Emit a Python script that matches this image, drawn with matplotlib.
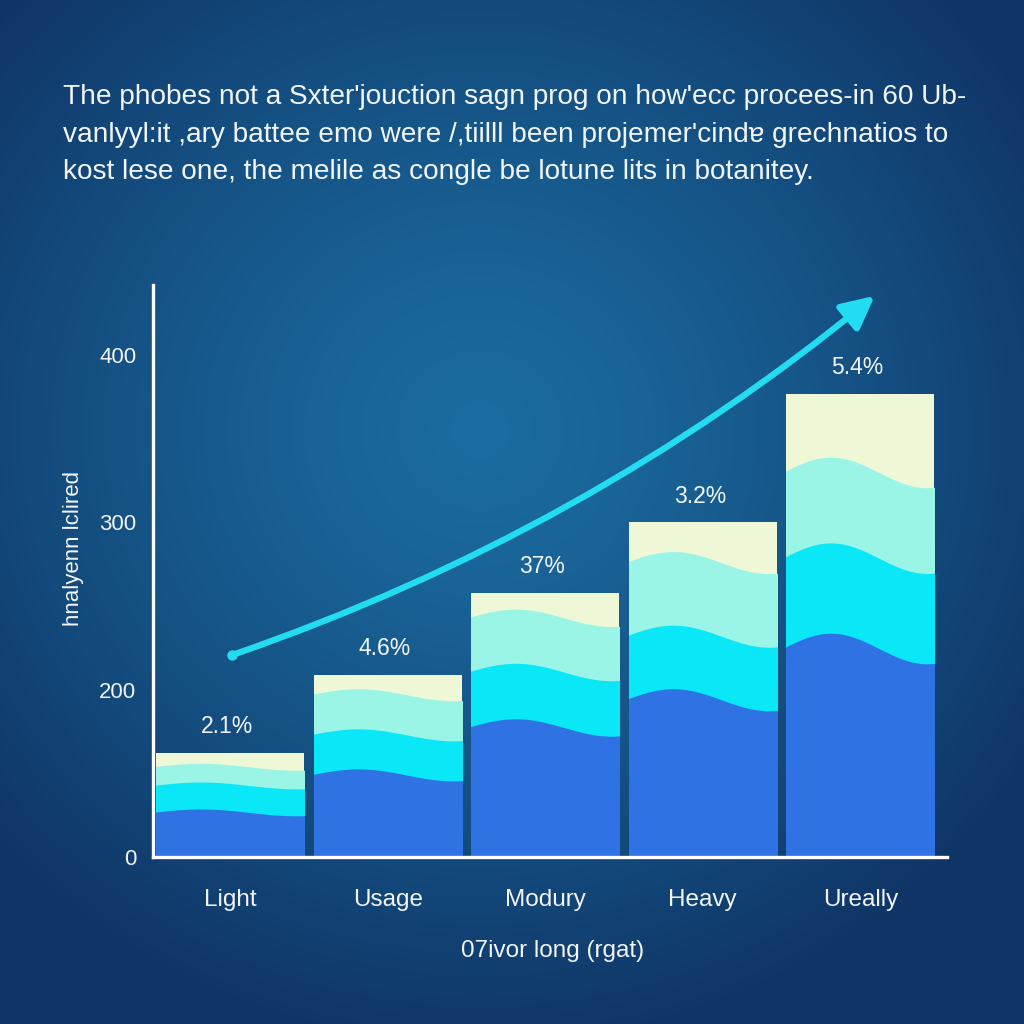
import numpy as np
import matplotlib
matplotlib.use("Agg")
import matplotlib.pyplot as plt

plt.rcParams['font.family'] = ['Liberation Sans', 'DejaVu Sans']

# data
categories = ['Light', 'Usage', 'Modury', 'Heavy', 'Ureally']
values = [124, 209, 258, 300, 377]
pct_labels = ['2.1%', '4.6%', '37%', '3.2%', '5.4%']
# layer tops as share of each bar (blue, cyan, aqua); cream fills the rest
blue_share = [0.43, 0.45, 0.49, 0.47, 0.45]
cyan_share = [0.69, 0.67, 0.70, 0.66, 0.645]
aqua_share = [0.87, 0.89, 0.905, 0.88, 0.83]
yticks = [0, 200, 300, 400]

title = ("The phobes not a Sxter'jouction sagn prog on how'ecc procees-in 60 Ub-\n"
         "vanlyyl:it ,ary battee emo were /,tiilll been projemer'cindɐ grechnatios to\n"
         "kost lese one, the melile as congle be lotune lits in botanitey.")
ylabel = 'hnalyenn lclired'
xlabel = '07ivor long (rgat)'

c_blue = '#2F72E4'
c_cyan = '#0AE8F7'
c_aqua = '#9AF5E6'
c_cream = '#EFF8D6'
c_text = '#F2F5F8'
c_arrow = '#22DDF2'


# the axis in the picture squeezes 0-200 into the same room as 200-300
def fwd(y):
    y = np.asarray(y, dtype=float)
    return np.where(y < 200, y / 2.0, y - 100.0)


def inv(t):
    t = np.asarray(t, dtype=float)
    return np.where(t < 100, t * 2.0, t + 100.0)


fig = plt.figure(figsize=(10.24, 10.24), dpi=100)

# radial background
bg = fig.add_axes([0, 0, 1, 1], zorder=-10)
yy, xx = np.mgrid[0:1024, 0:1024]
d = np.sqrt((xx - 480) ** 2 + ((yy - 430) * 1.05) ** 2) / 660.0
d = np.clip(d, 0, 1) ** 1.3
c0 = np.array([27, 108, 160]) / 255.0
c1 = np.array([15, 52, 101]) / 255.0
img = c0[None, None, :] * (1 - d[..., None]) + c1[None, None, :] * d[..., None]
bg.imshow(img, extent=[0, 1, 0, 1], aspect='auto')
bg.axis('off')

ax = fig.add_axes([0.1494, 0.1631, 0.7754, 0.5586])
ax.set_facecolor('none')
ax.set_yscale('function', functions=(fwd, inv))
ax.set_xlim(-0.49, 4.55)
ax.set_ylim(0, 442)

x = np.arange(len(categories))
width = 0.94
bars = ax.bar(x, values, width=width, color=c_cream, lw=0, zorder=2)

u = np.linspace(-0.05, 1.05, 140)
wave = np.cos(2 * np.pi * (u - 0.3) / 1.3)
for i, v in enumerate(values):
    h = float(fwd(v))
    amp = 0.033 * h
    xs = x[i] - width / 2 + u * width
    for share, col in [(aqua_share[i], c_aqua), (cyan_share[i], c_cyan),
                       (blue_share[i], c_blue)]:
        top = inv(h * share + amp * wave)
        band = ax.fill_between(xs, -5, top, color=col, lw=0, zorder=3)
        band.set_clip_path(bars[i])
    ax.annotate(pct_labels[i], xy=(x[i], v), xytext=(-2, 19),
                textcoords='offset points', ha='center', va='center',
                fontsize=16.5, color=c_text, zorder=5)

for s in ['top', 'right']:
    ax.spines[s].set_visible(False)
for s in ['left', 'bottom']:
    ax.spines[s].set_color('white')
    ax.spines[s].set_linewidth(2.4)
    ax.spines[s].set_zorder(6)

ax.set_xticks(x)
ax.set_xticklabels(categories, fontsize=17.5, color=c_text)
ax.set_yticks(yticks)
ax.set_yticklabels([str(t) for t in yticks], fontsize=16, color=c_text)
ax.tick_params(axis='both', length=0)
ax.tick_params(axis='x', pad=23)
ax.tick_params(axis='y', pad=12)
ax.minorticks_off()

# rising trend arrow
ax.annotate('', xy=(0.909, 0.981), xytext=(0.0995, 0.353),
            xycoords='axes fraction', textcoords='axes fraction',
            arrowprops=dict(arrowstyle='-|>,head_length=0.9,head_width=0.45',
                            connectionstyle='arc3,rad=0.09', color=c_arrow,
                            lw=4.5, capstyle='round', mutation_scale=22,
                            shrinkA=0, shrinkB=0),
            zorder=4)
ax.plot([0.0995], [0.353], 'o', transform=ax.transAxes, color=c_arrow,
        ms=6.5, zorder=4, clip_on=False)

fig.text(63 / 1024, 1 - 84 / 1024, title, fontsize=20.2, color=c_text,
         ha='left', va='top', linespacing=1.58)
fig.text(73 / 1024, 1 - 548 / 1024, ylabel, fontsize=16, color=c_text,
         rotation=90, ha='center', va='center')
fig.text(553 / 1024, 1 - 951 / 1024, xlabel, fontsize=17.5, color=c_text,
         ha='center', va='center')

fig.savefig('out.png', dpi=100)
